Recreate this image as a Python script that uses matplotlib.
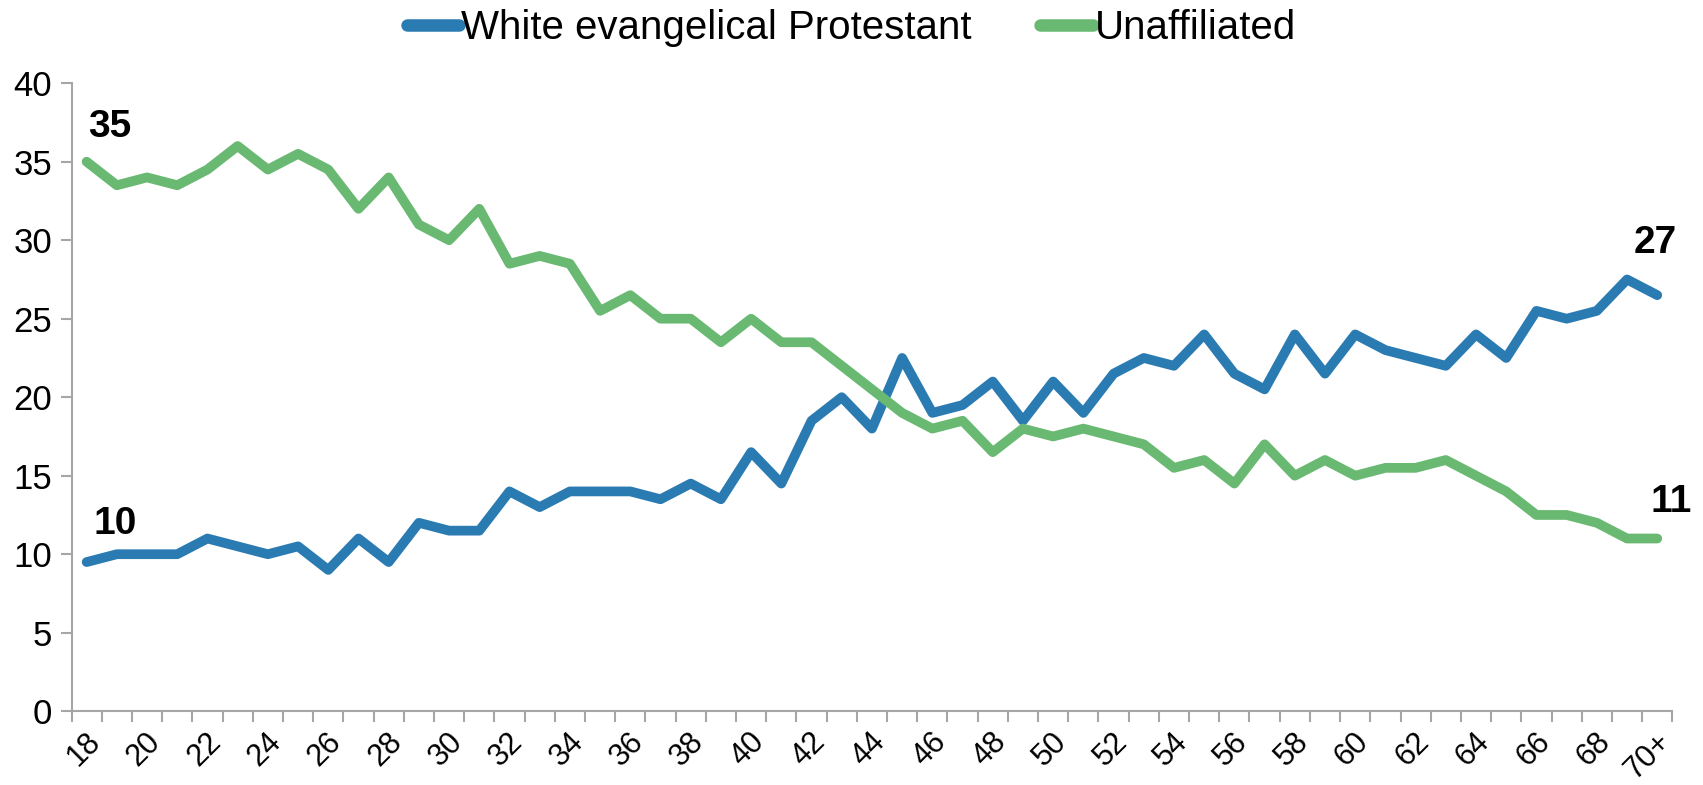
import matplotlib
matplotlib.use("Agg")
import matplotlib.pyplot as plt
import numpy as np

ages = [str(a) for a in range(18, 70)] + ["70+"]
evangelical = [9.5, 10, 10, 10, 11, 10.5, 10, 10.5, 9, 11, 9.5, 12, 11.5, 11.5, 14, 13, 14, 14, 14, 13.5,
               14.5, 13.5, 16.5, 14.5, 18.5, 20, 18, 22.5, 19, 19.5, 21, 18.5, 21, 19, 21.5, 22.5, 22, 24,
               21.5, 20.5, 24, 21.5, 24, 23, 22.5, 22, 24, 22.5, 25.5, 25, 25.5, 27.5, 26.5]
unaffiliated = [35, 33.5, 34, 33.5, 34.5, 36, 34.5, 35.5, 34.5, 32, 34, 31, 30, 32, 28.5, 29, 28.5, 25.5,
                26.5, 25, 25, 23.5, 25, 23.5, 23.5, 22, 20.5, 19, 18, 18.5, 16.5, 18, 17.5, 18, 17.5, 17,
                15.5, 16, 14.5, 17, 15, 16, 15, 15.5, 15.5, 16, 15, 14, 12.5, 12.5, 12, 11, 11]
yticks = [0, 5, 10, 15, 20, 25, 30, 35, 40]
labels = [("35", 0, 35), ("10", 0, 10), ("27", 52, 27), ("11", 52, 11)]

plt.rcParams['font.family'] = ['Liberation Sans', 'DejaVu Sans']

fig = plt.figure(figsize=(17.03, 7.85), dpi=100)
ax = fig.add_axes([0.042, 0.094, 0.940, 0.80])
x = np.arange(len(ages))
blue = '#2b7bb3'
green = '#69b972'
ax.plot(x, evangelical, color=blue, lw=7.0, solid_capstyle='round', solid_joinstyle='round',
        label='White evangelical Protestant')
ax.plot(x, unaffiliated, color=green, lw=7.0, solid_capstyle='round', solid_joinstyle='round',
        label='Unaffiliated')

ax.set_xlim(-0.5, len(ages) - 0.5)
ax.set_ylim(0, 40)
ax.set_yticks(yticks)
ax.set_yticklabels([str(v) for v in yticks], fontsize=25)
ax.set_xticks(x[::2])
ax.set_xticklabels(ages[::2], fontsize=22, rotation=45, ha='right', va='center',
                   rotation_mode='anchor')
ax.set_xticks(np.arange(-0.5, len(ages), 1), minor=True)
ax.tick_params(axis='x', which='major', length=0, pad=19)
ax.tick_params(axis='x', which='minor', length=8, width=1.5, color='#a6a6a6', direction='out')
ax.tick_params(axis='y', length=8, width=1.5, color='#a6a6a6', direction='out', pad=6)
for lbl in ax.get_xticklabels():
    lbl.set_transform(lbl.get_transform() + matplotlib.transforms.ScaledTranslation(9 / 100, 0, fig.dpi_scale_trans))
for s in ['top', 'right']:
    ax.spines[s].set_visible(False)
for s in ['left', 'bottom']:
    ax.spines[s].set_color('#a6a6a6')
    ax.spines[s].set_linewidth(1.5)

offs = {"35": (0.75, 2.2), "10": (0.95, 1.9), "27": (-0.05, 2.8), "11": (0.45, 2.3)}
for txt, i, v in labels:
    dx, dy = offs[txt]
    ax.text(i + dx, v + dy, txt, fontsize=28, fontweight='bold', ha='center', va='center')

leg = fig.legend(loc='upper center', bbox_to_anchor=(0.5, 1.035), ncol=2, frameon=False,
                 fontsize=29, handlelength=1.3, handletextpad=0.05, columnspacing=1.7)
for h in leg.get_lines():
    h.set_linewidth(9)
    h.set_solid_capstyle('round')

fig.savefig('out.png', dpi=100)
